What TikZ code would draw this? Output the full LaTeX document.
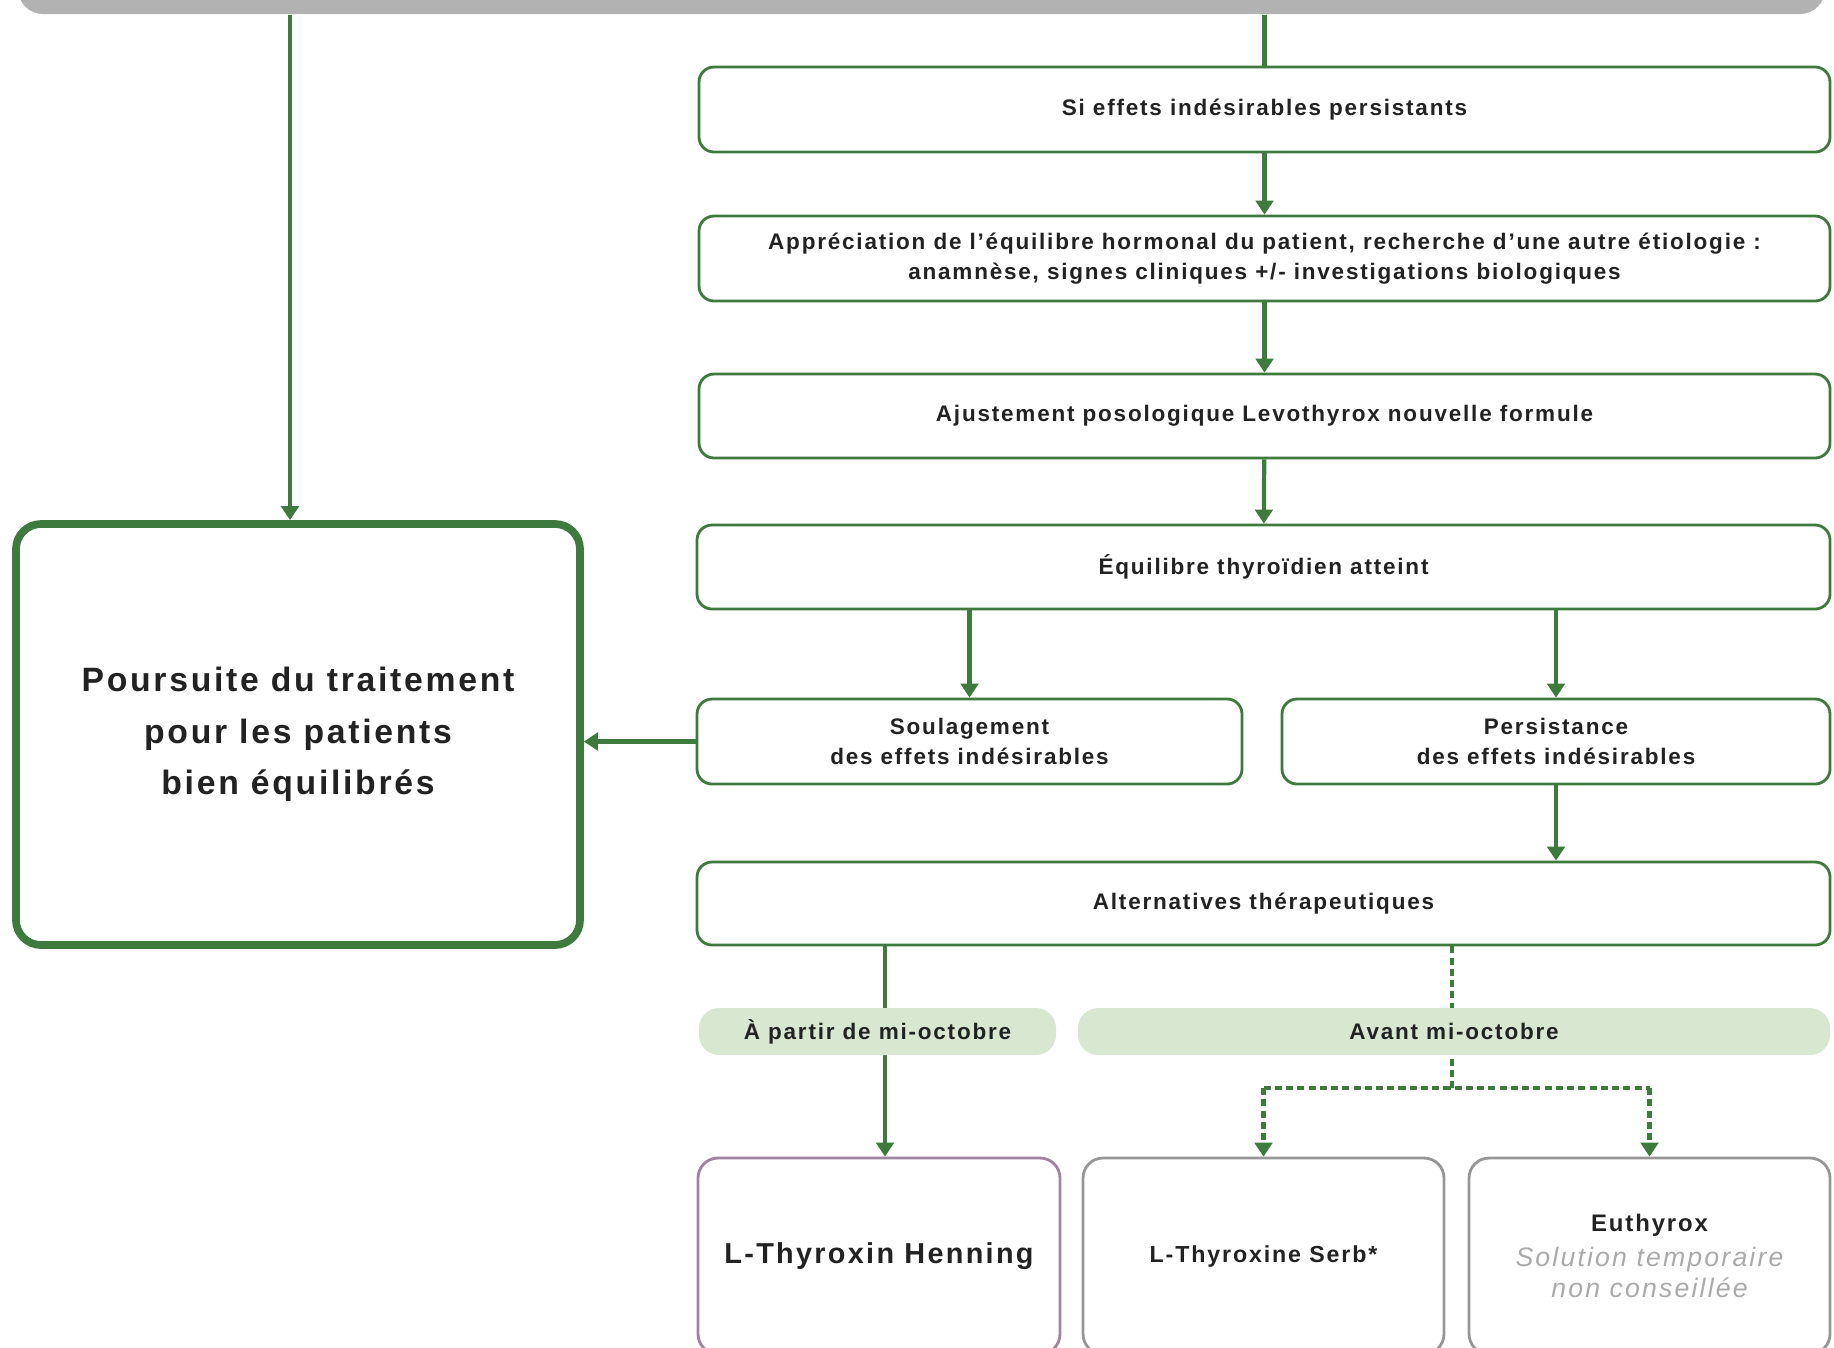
\documentclass[tikz,border=0pt]{standalone}
\usepackage{fontspec}
\setmainfont[LetterSpace=8]{Liberation Sans}
\usetikzlibrary{arrows.meta}
\definecolor{darkgreen}{RGB}{62,122,62}
\definecolor{palegreen}{RGB}{216,232,208}
\definecolor{bargrey}{RGB}{178,178,178}
\definecolor{mauve}{RGB}{158,132,158}
\definecolor{boxgrey}{RGB}{150,150,150}
\definecolor{inkgrey}{RGB}{34,34,34}
\definecolor{softgrey}{RGB}{170,170,170}
\newcommand{\softline}{\fontsize{7.6}{9}\selectfont\mdseries\itshape\color{softgrey}}
\begin{document}
\begin{tikzpicture}
      \tikzstyle{every node}=[font=\fontsize{6.4}{8.5}\selectfont\bfseries, text=inkgrey, align=center, inner sep=0pt]
      \tikzstyle{box}=[draw=darkgreen, line width=0.8pt, rounded corners=0.15cm, minimum height=0.85cm]
      \tikzstyle{pill}=[fill=palegreen, rounded corners=0.2cm, minimum height=0.47cm]
      \tikzstyle{final}=[draw=boxgrey, line width=0.8pt, rounded corners=0.2cm, minimum width=3.61cm, minimum height=1.96cm]
      \tikzstyle{flow}=[darkgreen, line width=1.2pt, -{Triangle[width=5pt,length=4pt]}]
      \tikzstyle{maybe}=[darkgreen, line width=1.2pt, dash pattern=on 2pt off 1.2pt]
      %% page frame - the bottom boxes are cut by it
      \useasboundingbox (0,0) rectangle (18.34,-13.47);
      %% grey bar at the top, mostly off the page
      \node (topbar) at (9.215,0.16) [fill=bargrey, rounded corners=0.25cm, minimum width=18.07cm, minimum height=0.6cm] {};
      % left column
      \node (suite) at (2.98,-7.345) [box, line width=2.2pt, rounded corners=0.25cm, minimum width=5.64cm, minimum height=4.21cm,
            font=\fontsize{9.6}{14.6}\selectfont\bfseries] {Poursuite du traitement\\pour les patients\\bien équilibrés};
      \coordinate (leftdrop) at (2.90,0);
      % right column
      \node (persist) at (12.645,-1.095) [box, minimum width=11.31cm] {Si effets indésirables persistants};
      \node (bilan) at (12.645,-2.585) [box, minimum width=11.31cm] {Appréciation de l'équilibre hormonal du patient, recherche d'une autre étiologie :\\anamnèse, signes cliniques +/- investigations biologiques};
      \node (ajust) at (12.645,-4.16) [box, minimum width=11.31cm, minimum height=0.84cm] {Ajustement posologique Levothyrox nouvelle formule};
      \node (equil) at (12.635,-5.67) [box, minimum width=11.33cm, minimum height=0.84cm] {Équilibre thyroïdien atteint};
      \node (soulag) at (9.695,-7.415) [box, minimum width=5.45cm] {Soulagement\\des effets indésirables};
      \node (effets) at (15.56,-7.415) [box, minimum width=5.48cm] {Persistance\\des effets indésirables};
      \node (altern) at (12.635,-9.035) [box, minimum width=11.33cm, minimum height=0.83cm] {Alternatives thérapeutiques};
      % bottom boxes
      \node (henning) at (8.79,-12.56) [final, draw=mauve, minimum width=3.62cm, font=\fontsize{8.2}{10}\selectfont\bfseries] {L-Thyroxin Henning};
      \node (serb) at (12.635,-12.56) [final, font=\fontsize{6.6}{8}\selectfont\bfseries] {L-Thyroxine Serb*};
      \node (euthyrox) at (16.495,-12.56) [final, font=\fontsize{6.8}{9}\selectfont\bfseries]
            {Euthyrox\\[1pt]\softline Solution temporaire\\\softline non conseillée};
      \coordinate (route) at (8.85,0);
      %% connectors
      \draw[flow] (topbar.south -| leftdrop) -- (suite.north -| leftdrop);
      \draw[darkgreen, line width=1.2pt] (topbar.south -| persist.north) -- (persist.north);
      \draw[flow] (persist) -- (bilan);
      \draw[flow] (bilan) -- (ajust);
      \draw[flow] (ajust) -- (equil);
      \draw[flow] (equil.south -| soulag.north) -- (soulag.north);
      \draw[flow] (equil.south -| effets.north) -- (effets.north);
      \draw[flow] (effets) -- (altern.north -| effets);
      \draw[flow] (soulag.west) -- (soulag.west -| suite.east);
      % solid route
      \draw[flow] (altern.south -| route) -- (henning.north -| route);
      % dashed route
      \coordinate (split) at (14.52,-10.88);
      \draw[maybe] (altern.south -| split) -- (split);
      \draw[maybe] (split -| serb) -- (split -| euthyrox);
      \draw[maybe, -{Triangle[width=5pt,length=4pt]}] (split -| serb) -- (serb.north);
      \draw[maybe, -{Triangle[width=5pt,length=4pt]}] (split -| euthyrox) -- (euthyrox.north);
      %% labels over the two routes
      \node (apres) at (8.775,-10.315) [pill, minimum width=3.57cm] {À partir de mi-octobre};
      \node (avant) at (14.54,-10.315) [pill, minimum width=7.52cm] {Avant mi-octobre};
\end{tikzpicture}
\end{document}
